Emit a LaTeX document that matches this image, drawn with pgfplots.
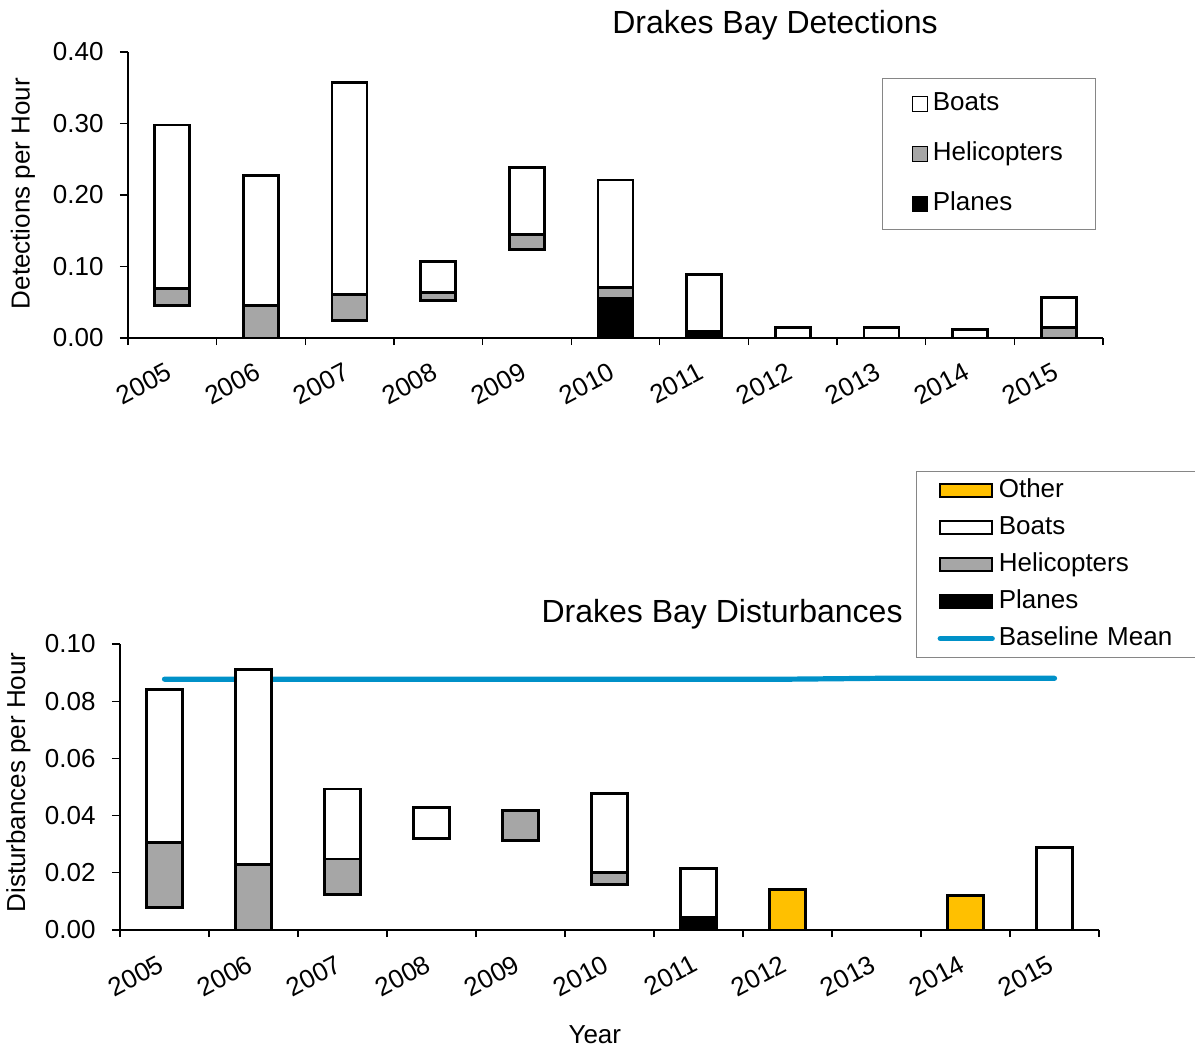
\documentclass[border=0pt]{standalone}
\usepackage{fontspec}
\setmainfont{Liberation Sans}
\usepackage{pgfplots}
\usepackage{pgfplotstable}
\pgfplotsset{compat=1.18}

\definecolor{heligray}{RGB}{166,166,166}
\definecolor{othergold}{RGB}{255,192,0}
\definecolor{meanblue}{RGB}{0,145,200}
\definecolor{framegray}{RGB}{134,134,134}

% Detections per hour; "base" is the empty gap below each floating stack
\pgfplotstableread{
idx base  planes heli   boats
0   0.045 0      0.024  0.229
1   0     0      0.045  0.182
2   0.024 0      0.037  0.296
3   0.053 0      0.011  0.043
4   0.124 0      0.021  0.094
5   0     0.056  0.015  0.150
6   0     0.009  0      0.080
7   0     0      0      0.0145
8   0     0      0      0.0145
9   0     0      0      0.012
10  0     0      0.0145 0.0425
}\detections

% Disturbances per hour and the baseline mean
\pgfplotstableread{
idx base   planes heli   boats  other  mean
0   0.008  0      0.0227 0.0534 0      0.0877
1   0      0      0.023  0.0682 0      0.0877
2   0.0125 0      0.0123 0.0245 0      0.0877
3   0.0319 0      0      0.011  0      0.0877
4   0.0312 0      0.0106 0      0      0.0877
5   0.0159 0      0.0041 0.0276 0      0.0877
6   0      0.0045 0      0.0169 0      0.0877
7   0      0      0      0      0.0141 0.0877
8   0      0      0      0      0      0.0880
9   0      0      0      0      0.0122 0.0880
10  0      0      0      0.0288 0      0.0880
}\disturbances

\pgfplotsset{
  drakes/.style={
    scale only axis,
    ybar stacked,
    xmin=-0.5, xmax=10.5, ymin=0,
    axis x line*=bottom, axis y line*=left,
    axis line style={black, line width=0.6pt, -},
    xtick={0,...,10},
    xticklabels={2005,2006,2007,2008,2009,2010,2011,2012,2013,2014,2015},
    minor xtick={-0.5,0.5,...,10.5},
    major x tick style={draw=none},
    tick align=outside,
    tick style={black, line width=0.6pt},
    major tick length=4pt, minor tick length=3.5pt,
    tick label style={font=\fontsize{13}{15}\selectfont},
    xticklabel style={anchor=base east, inner sep=0pt,
                      xshift=0.8pt, yshift=-16pt, rotate=28},
    yticklabel style={anchor=east, inner sep=0pt, xshift=-8pt},
    /pgf/number format/assume math mode=true,
    yticklabel={\pgfmathprintnumber[fixed, fixed zerofill, precision=2]{\tick}},
    label style={font=\fontsize{13}{15}\selectfont},
    title style={font=\fontsize{16}{19}\selectfont, anchor=center},
    legend cell align=left,
  },
  bar/.style={draw=black, line width=1.4pt, forget plot},
  sqimg/.style={legend image code/.code={%
      \draw[##1, line width=0.7pt] (0pt,-3.75pt) rectangle (7.5pt,3.75pt);
      \path (10pt,0pt);}},
  rectimg/.style={legend image code/.code={%
      \draw[##1, line width=0.9pt] (0pt,-3.25pt) rectangle (26pt,3.25pt);
      \path (28pt,0pt);}},
  lineimg/.style={legend image code/.code={%
      \draw[##1] (0pt,0pt) -- (26pt,0pt);
      \path (28pt,0pt);}},
}

\begin{document}
\begin{tikzpicture}
\useasboundingbox (0,0) rectangle (597.5pt,-525.5pt);

% Detections
\begin{axis}[drakes,
  at={(64pt,-169pt)}, anchor=south west,
  width=487.5pt, height=143pt,
  ymax=0.40, ytick={0,0.1,0.2,0.3,0.4},
  bar width=17.5pt,
  title={Drakes Bay Detections},
  title style={at={(axis description cs:0.6636,1)}, yshift=7.5pt},
  ylabel={Detections per Hour},
  ylabel style={at={(axis description cs:-0.1077,0.505)}, anchor=center},
  legend style={at={(0.7733,0.909)}, anchor=north west,
    draw=framegray, line width=0.6pt,
    inner xsep=14.5pt, inner ysep=6.5pt, row sep=12.5pt,
    font=\fontsize{13}{15}\selectfont,
    nodes={inner sep=0pt, text height=9.5pt, text depth=3pt,
           text width=67pt, align=left}},
]
\addplot[draw=none, fill=none, forget plot] table[x=idx, y=base] {\detections};
\addplot[bar, fill=black] table[x=idx, y=planes] {\detections};
\addplot[bar, fill=heligray] table[x=idx, y=heli] {\detections};
\addplot[bar, fill=white] table[x=idx, y=boats] {\detections};

\addlegendimage{sqimg, draw=black, fill=white}
\addlegendentry{Boats}
\addlegendimage{sqimg, draw=black, fill=heligray}
\addlegendentry{Helicopters}
\addlegendimage{sqimg, draw=black, fill=black}
\addlegendentry{Planes}
\end{axis}

% Disturbances
\begin{axis}[drakes,
  at={(60pt,-465pt)}, anchor=south west,
  width=489.5pt, height=143pt,
  ymax=0.10, ytick={0,0.02,0.04,0.06,0.08,0.10},
  bar width=18pt,
  title={Drakes Bay Disturbances},
  title style={at={(axis description cs:0.615,1)}, yshift=9pt},
  ylabel={Disturbances per Hour},
  ylabel style={at={(axis description cs:-0.1039,0.516)}, anchor=center},
  xlabel={Year},
  xlabel style={at={(axis description cs:0.485,-0.367)}, anchor=center},
  legend style={at={(0.8131,1.605)}, anchor=north west,
    draw=framegray, line width=0.6pt,
    inner xsep=10.5pt, inner ysep=3.25pt, row sep=6pt,
    font=\fontsize{13}{15}\selectfont,
    nodes={inner sep=0pt, text height=9.5pt, text depth=3pt,
           text width=95pt, align=left}},
]
\addplot[draw=none, fill=none, forget plot] table[x=idx, y=base] {\disturbances};
\addplot[bar, fill=black] table[x=idx, y=planes] {\disturbances};
\addplot[bar, fill=heligray] table[x=idx, y=heli] {\disturbances};
\addplot[bar, fill=white] table[x=idx, y=boats] {\disturbances};
\addplot[bar, fill=othergold] table[x=idx, y=other] {\disturbances};
\addplot[stack plots=false, sharp plot, no markers, meanblue,
         line width=2.6pt, line cap=round, forget plot]
  table[x=idx, y=mean] {\disturbances};

\addlegendimage{rectimg, draw=black, fill=othergold}
\addlegendentry{Other}
\addlegendimage{rectimg, draw=black, fill=white}
\addlegendentry{Boats}
\addlegendimage{rectimg, draw=black, fill=heligray}
\addlegendentry{Helicopters}
\addlegendimage{rectimg, draw=black, fill=black}
\addlegendentry{Planes}
\addlegendimage{lineimg, meanblue, line width=2.6pt, line cap=round}
\addlegendentry{Baseline Mean}
\end{axis}
\end{tikzpicture}
\end{document}
